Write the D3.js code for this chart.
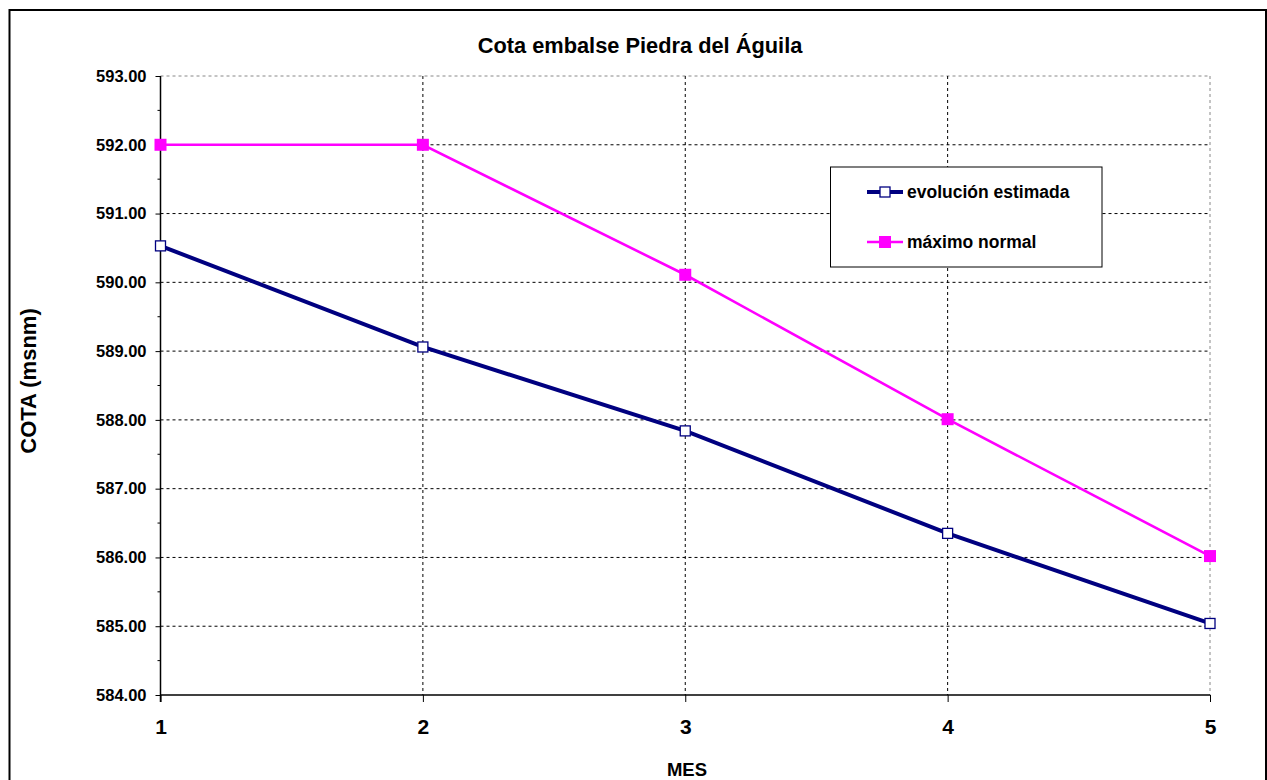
<!DOCTYPE html>
<html><head><meta charset="utf-8">
<script src="https://cdn.jsdelivr.net/npm/d3@7"></script>
<style>body{margin:0;background:#fff}svg{display:block}text{font-family:Arial,"Liberation Sans",sans-serif;font-weight:bold;fill:#000}</style>
</head><body>
<script>
const meses = [1, 2, 3, 4, 5];
const evolucionEstimada = [590.53, 589.06, 587.84, 586.35, 585.04];
const maximoNormal = [592.00, 592.00, 590.11, 588.01, 586.02];
const yTicks = [584, 585, 586, 587, 588, 589, 590, 591, 592, 593];
const seriesNames = ["evolución estimada", "máximo normal"];
const titleText = "Cota embalse Piedra del Águila";
const xTitle = "MES", yTitle = "COTA (msnm)";

const W = 1267, H = 780;
const svg = d3.select("body").append("svg").attr("width", W).attr("height", H);
svg.append("rect").attr("width", W).attr("height", H).attr("fill", "#fff");
svg.append("rect").attr("x", 9.5).attr("y", 10).attr("width", 1256.5).attr("height", 800)
  .attr("fill", "none").attr("stroke", "#000").attr("stroke-width", 2);

const L = 160.5, R = 1210, T = 76, B = 695;
const x = d3.scaleLinear().domain([1, 5]).range([L, R]);
const y = d3.scaleLinear().domain([584, 593]).range([B, T]);

// gridlines
const g = svg.append("g");
yTicks.slice(1).forEach(v => {
  g.append("line").attr("x1", L).attr("x2", R).attr("y1", y(v)).attr("y2", y(v))
    .attr("stroke", v === 593 ? "#888" : "#000").attr("stroke-width", 1).attr("stroke-dasharray", "3,3");
});
meses.slice(1).forEach(v => {
  g.append("line").attr("x1", x(v)).attr("x2", x(v)).attr("y1", T).attr("y2", B)
    .attr("stroke", v === 5 ? "#888" : "#000").attr("stroke-width", 1).attr("stroke-dasharray", "3,3");
});

// y axis
const yAxis = d3.axisLeft(y).tickValues(yTicks).tickSize(5).tickPadding(9).tickFormat(d3.format(".2f"));
const ya = svg.append("g").attr("transform", `translate(${L},0)`).call(yAxis);
ya.select(".domain").attr("stroke", "#000").attr("stroke-width", 1.5).attr("d", `M0,${T}V${B+7}`);
ya.selectAll("text").style("font-size", "16.5px").style("font-family", "Arial, 'Liberation Sans', sans-serif").style("font-weight", "bold");
const minor = yTicks.slice(0, -1).map(v => v + 0.5);
ya.selectAll(".minor").data(minor).enter().append("line").attr("x1", -3).attr("x2", 0)
  .attr("y1", d => y(d)).attr("y2", d => y(d)).attr("stroke", "#000");

// x axis
const xAxis = d3.axisBottom(x).tickValues(meses).tickSize(7).tickPadding(17).tickFormat(d3.format("d"));
const xa = svg.append("g").attr("transform", `translate(0,${B})`).call(xAxis);
xa.select(".domain").attr("stroke", "#000").attr("stroke-width", 1.5).attr("d", `M${L},0H${R}`);
xa.selectAll("text").style("font-size", "21px").style("font-family", "Arial, 'Liberation Sans', sans-serif").style("font-weight", "bold");

// lines
const line = d3.line().x((d, i) => x(meses[i])).y(d => y(d));
svg.append("path").datum(maximoNormal).attr("d", line).attr("fill", "none").attr("stroke", "#FF00FF").attr("stroke-width", 2.6);
svg.append("path").datum(evolucionEstimada).attr("d", line).attr("fill", "none").attr("stroke", "#000080").attr("stroke-width", 4);
svg.selectAll(".mn").data(maximoNormal).enter().append("rect")
  .attr("x", (d, i) => x(meses[i]) - 6).attr("y", d => y(d) - 6).attr("width", 12).attr("height", 12).attr("fill", "#FF00FF");
svg.selectAll(".ev").data(evolucionEstimada).enter().append("rect")
  .attr("x", (d, i) => x(meses[i]) - 5).attr("y", d => y(d) - 5).attr("width", 10).attr("height", 10)
  .attr("fill", "#fff").attr("stroke", "#000080").attr("stroke-width", 1.3);

// titles
svg.append("text").attr("x", 640).attr("y", 53).attr("text-anchor", "middle").style("font-size", "21.8px").text(titleText);
svg.append("text").attr("x", 687).attr("y", 776).attr("text-anchor", "middle").style("font-size", "18.5px").text(xTitle);
svg.append("text").attr("transform", "translate(36,381) rotate(-90)").attr("text-anchor", "middle").style("font-size", "22px").text(yTitle);

// legend
const lg = svg.append("g");
lg.append("rect").attr("x", 830.5).attr("y", 167).attr("width", 271.5).attr("height", 100)
  .attr("fill", "#fff").attr("stroke", "#000").attr("stroke-width", 1);
const ly = [192, 242];
lg.append("line").attr("x1", 867).attr("x2", 903).attr("y1", ly[0]).attr("y2", ly[0]).attr("stroke", "#000080").attr("stroke-width", 4);
lg.append("rect").attr("x", 880).attr("y", ly[0] - 5).attr("width", 10).attr("height", 10).attr("fill", "#fff").attr("stroke", "#000080").attr("stroke-width", 1.3);
lg.append("line").attr("x1", 867).attr("x2", 903).attr("y1", ly[1]).attr("y2", ly[1]).attr("stroke", "#FF00FF").attr("stroke-width", 2.6);
lg.append("rect").attr("x", 879).attr("y", ly[1] - 6).attr("width", 12).attr("height", 12).attr("fill", "#FF00FF");
seriesNames.forEach((n, i) => {
  lg.append("text").attr("x", 907).attr("y", ly[i] + 6).style("font-size", "17.5px").text(n);
});
</script>
</body></html>
